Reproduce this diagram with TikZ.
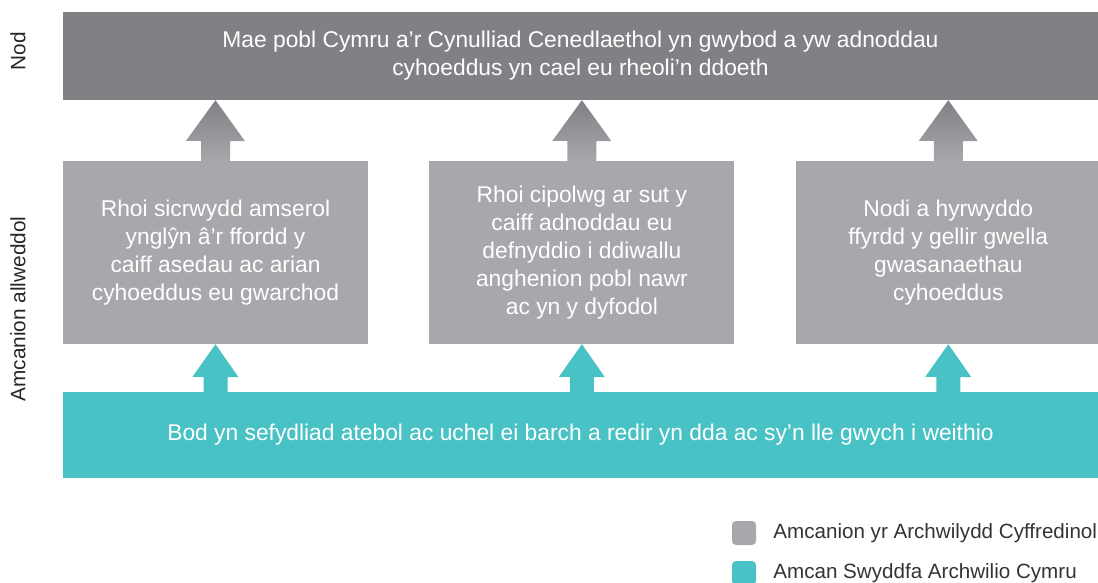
\documentclass[tikz,border=0pt]{standalone}
\usepackage{fontspec}
\setmainfont{Liberation Sans}
\usepackage{xcolor}
\usepackage{tikz}
\usetikzlibrary{calc,positioning}

\definecolor{goalgrey}{RGB}{128,129,133}
\definecolor{aimgrey}{RGB}{167,168,172}
\definecolor{wales}{RGB}{73,194,197}

\begin{document}
\begin{tikzpicture}[x=1pt,y=-1pt,
  txt/.style={text=white,align=center,font=\fontsize{22.8}{28}\selectfont},
  goalbar/.style={txt,fill=goalgrey,minimum width=1035pt,minimum height=88pt},
  aimbox/.style={txt,fill=aimgrey,minimum width=305pt,minimum height=183pt},
  basebar/.style={txt,fill=wales,minimum width=1035pt,minimum height=86pt},
  greyarrow/.style={top color=goalgrey,bottom color=aimgrey,draw=none},
  tealarrow/.style={fill=wales},
  side/.style={rotate=90,text=black!85,font=\fontsize{20.8}{24}\selectfont},
  keysq/.style={minimum size=24pt,inner sep=0pt,rounded corners=4pt},
  keytxt/.style={anchor=west,inner sep=0pt,text=black!80,font=\fontsize{20.6}{24}\selectfont}]
  \useasboundingbox (0,0) rectangle (1098,583); %整幅图的范围

  \node[goalbar] (goal) at (580.5,56)
    {Mae pobl Cymru a’r Cynulliad Cenedlaethol yn gwybod a yw adnoddau\\cyhoeddus yn cael eu rheoli’n ddoeth};

  \node[aimbox] (ao1) at (215.5,252.5)
    {Rhoi sicrwydd amserol\\ynglŷn â’r ffordd y\\caiff asedau ac arian\\cyhoeddus eu gwarchod};
  \node[aimbox,right=61pt of ao1] (ao2)
    {Rhoi cipolwg ar sut y\\caiff adnoddau eu\\defnyddio i ddiwallu\\anghenion pobl nawr\\ac yn y dyfodol};
  \node[aimbox,right=61pt of ao2] (ao3)
    {Nodi a hyrwyddo\\ffyrdd y gellir gwella\\gwasanaethau\\cyhoeddus};

  \node[basebar] (base) at (580.5,435)
    {Bod yn sefydliad atebol ac uchel ei barch a redir yn dda ac sy’n lle gwych i weithio};

  % 方块箭头
  \foreach \b in {ao1,ao2,ao3} {
    \shade[greyarrow] (\b.north) ++(-14.5,0) -- ++(0,-20) -- ++(-15,0)
      -- (\b.north |- goal.south) -- ++(29.5,41) -- ++(-15,0) -- ++(0,20) -- cycle;
    \fill[tealarrow] (\b.south |- base.north) ++(-12,0) -- ++(0,-15) -- ++(-11,0)
      -- (\b.south) -- ++(23,33) -- ++(-11,0) -- ++(0,15) -- cycle;
  }

  \node[side] (nod) at (18,51) {Nod};
  \node[side] (keyaims) at (18,309) {Amcanion allweddol};

  % 图例
  \node[keysq,fill=aimgrey] (k1) at (744,533) {};
  \node[keysq,fill=wales] (k2) at (744,573) {};
  \node[keytxt] (t1) at ($(k1.east)+(17,0)$) {Amcanion yr Archwilydd Cyffredinol};
  \node[keytxt] (t2) at ($(k2.east)+(17,0)$) {Amcan Swyddfa Archwilio Cymru};
\end{tikzpicture}
\end{document}
